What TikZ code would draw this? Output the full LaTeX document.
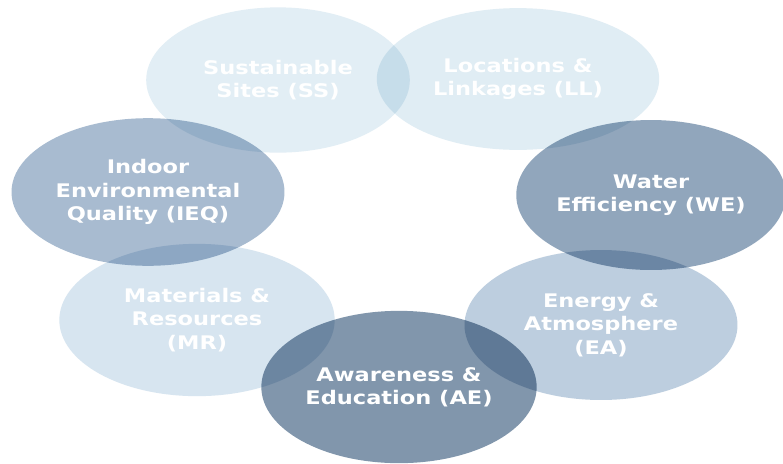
\documentclass[tikz,border=0pt]{standalone}
\usepackage{fontspec}
\setsansfont[FakeStretch=1.2]{DejaVu Sans}
\usepackage{tikz}
\usetikzlibrary{shapes.geometric}

\definecolor{paleblue}{HTML}{E2EEF5}
\definecolor{lightblue}{HTML}{D7E5F0}
\definecolor{softblue}{HTML}{BDCEDF}
\definecolor{midblue}{HTML}{A8BBD0}
\definecolor{deepblue}{HTML}{91A6BC}
\definecolor{darkblue}{HTML}{8196AC}

\tikzset{
    credit/.style={ellipse, inner sep=0pt, minimum width=233pt, minimum height=128pt,
        blend mode=multiply},
    credit label/.style={text=white, align=center, inner sep=0pt,
        font=\sffamily\bfseries\fontsize{16}{20}\selectfont}
}

\begin{document}
\begin{tikzpicture}[x=0.03cm, y=-0.03cm]
        \useasboundingbox[fill=white] (0,0) rectangle (783,463);

        % Top row
        \node[credit, fill=paleblue, minimum width=225pt, minimum height=124pt,
            label={[credit label]center:{Sustainable\\Sites (SS)}}] (ss) at (278,80) {};
        \node[credit, fill=paleblue!85!lightblue, minimum width=241pt, minimum height=121pt,
            label={[credit label]center:{Locations \&\\Linkages (LL)}}] (ll) at (518,79) {};

        % Middle row
        \node[credit, fill=midblue, minimum height=126pt,
            label={[credit label]center:{Indoor\\Environmental\\Quality (IEQ)}}] (ieq) at (148,192) {};
        \node[credit, fill=deepblue, minimum width=230pt,
            label={[credit label]center:{Water\\Efficiency (WE)}}] (we) at (651,195) {};

        % Lower row
        \node[credit, fill=lightblue, minimum width=235pt, minimum height=130pt,
            label={[credit label]center:{Materials \&\\Resources\\(MR)}}] (mr) at (197,320) {};
        \node[credit, fill=softblue,
            label={[credit label]center:{Energy \&\\Atmosphere\\(EA)}}] (ea) at (601,325) {};

        % Bottom
        \node[credit, fill=darkblue, minimum width=235pt, minimum height=130pt,
            label={[credit label]center:{Awareness \&\\Education (AE)}}] (ae) at (399,387) {};
    \end{tikzpicture}
\end{document}
